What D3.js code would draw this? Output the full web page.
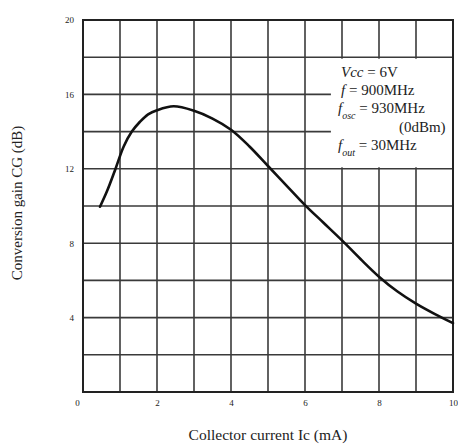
<!DOCTYPE html>
<html>
<head>
<meta charset="utf-8">
<script src="https://cdn.jsdelivr.net/npm/d3@7"></script>
<style>
  html, body { margin: 0; padding: 0; background: #fff; }
  svg { display: block; }
  text { font-family: "Liberation Serif", "DejaVu Serif", serif; fill: #222; }
</style>
</head>
<body>
<svg id="chart" width="458" height="444"></svg>
<script>
// Collector current (mA) vs conversion gain (dB)
const currentMA = [0.46, 0.65, 0.87, 1.1, 1.32, 1.54, 1.76, 2.0, 2.45, 3.0, 3.5, 4.0, 4.5, 5.0, 5.5, 6.0, 6.5, 7.0, 7.5, 8.0, 8.5, 9.0, 9.5, 10.0];
const gainDB    = [9.96, 10.8, 11.95, 13.2, 14.0, 14.53, 14.93, 15.15, 15.36, 15.12, 14.7, 14.1, 13.2, 12.15, 11.1, 10.05, 9.1, 8.15, 7.15, 6.2, 5.4, 4.75, 4.2, 3.7];

const xTicks = [0, 2, 4, 6, 8, 10];
const yTicks = [4, 8, 12, 16, 20];
const xGrid = d3.range(0, 11, 1);
const yGrid = d3.range(0, 21, 2);

const svg = d3.select("#chart");
const m = { left: 83, top: 20, right: 5, bottom: 52 };
const W = 458, H = 444;

const x = d3.scaleLinear().domain([0, 10]).range([m.left, W - m.right]);
const y = d3.scaleLinear().domain([0, 20]).range([H - m.bottom, m.top]);

// grid
const grid = svg.append("g").attr("stroke", "#3a3a3a").attr("stroke-width", 1.6);
grid.selectAll("line.v").data(xGrid).join("line")
  .attr("class", "v")
  .attr("x1", d => x(d)).attr("x2", d => x(d))
  .attr("y1", y(0)).attr("y2", y(20));
grid.selectAll("line.h").data(yGrid).join("line")
  .attr("class", "h")
  .attr("x1", x(0)).attr("x2", x(10))
  .attr("y1", d => y(d)).attr("y2", d => y(d));

// condition box blanks out the grid behind it
svg.append("rect")
  .attr("x", x(6.7))
  .attr("y", y(18) + 1.5)
  .attr("width", x(10) - x(6.7))
  .attr("height", (y(12) - 1.5) - (y(18) + 1.5))
  .attr("fill", "#fff");

// frame
svg.append("rect")
  .attr("x", x(0)).attr("y", y(20))
  .attr("width", x(10) - x(0)).attr("height", y(0) - y(20))
  .attr("fill", "none").attr("stroke", "#222").attr("stroke-width", 2);

// curve
const pts = currentMA.map((c, i) => [c, gainDB[i]]);
svg.append("path")
  .datum(pts)
  .attr("fill", "none")
  .attr("stroke", "#111")
  .attr("stroke-width", 2.6)
  .attr("stroke-linecap", "round")
  .attr("d", d3.line().x(d => x(d[0])).y(d => y(d[1])).curve(d3.curveCatmullRom.alpha(0.5)));

// axes
const xAxis = svg.append("g")
  .attr("transform", `translate(0,${y(0)})`)
  .call(d3.axisBottom(x).tickValues(xTicks).tickSize(0).tickPadding(8).tickFormat(d3.format("d")));
const yAxis = svg.append("g")
  .attr("transform", `translate(${x(0)},0)`)
  .call(d3.axisLeft(y).tickValues(yTicks).tickSize(0).tickPadding(9).tickFormat(d3.format("d")));
[xAxis, yAxis].forEach(a => {
  a.select(".domain").remove();
  a.selectAll("text").attr("font-size", 9).attr("font-family", "Liberation Serif, serif").attr("fill", "#333");
});
xAxis.selectAll(".tick").filter(d => d === 0).select("text").attr("dx", -6);

// axis titles
svg.append("text")
  .attr("x", (x(0) + x(10)) / 2).attr("y", 440)
  .attr("text-anchor", "middle").attr("font-size", 15.5)
  .text("Collector current  Ic  (mA)");
svg.append("text")
  .attr("transform", `translate(22,${203}) rotate(-90)`)
  .attr("text-anchor", "middle").attr("font-size", 15)
  .text("Conversion gain  CG  (dB)");

// operating conditions
const tx = x(7.0) - 1;
const lines = svg.append("g").attr("font-size", 15);
function condLine(yy, parts, anchor, xx) {
  const t = lines.append("text").attr("x", xx).attr("y", yy).attr("text-anchor", anchor || "start");
  parts.forEach(p => {
    const s = t.append("tspan").text(p.t);
    if (p.i) s.attr("font-style", "italic");
    if (p.sub) s.attr("baseline-shift", "sub").attr("font-size", 10);
  });
}
condLine(77, [{ t: "Vcc", i: true }, { t: " = 6V" }], "start", tx);
condLine(95, [{ t: "f", i: true }, { t: " = 900MHz" }], "start", tx);
condLine(113, [{ t: "f", i: true }, { t: "osc", i: true, sub: true }, { t: " = 930MHz" }], "start", tx - 3);
condLine(131.5, [{ t: "(0dBm)" }], "end", x(9.8));
condLine(150, [{ t: "f", i: true }, { t: "out", i: true, sub: true }, { t: " = 30MHz" }], "start", tx - 3);
</script>
</body>
</html>
